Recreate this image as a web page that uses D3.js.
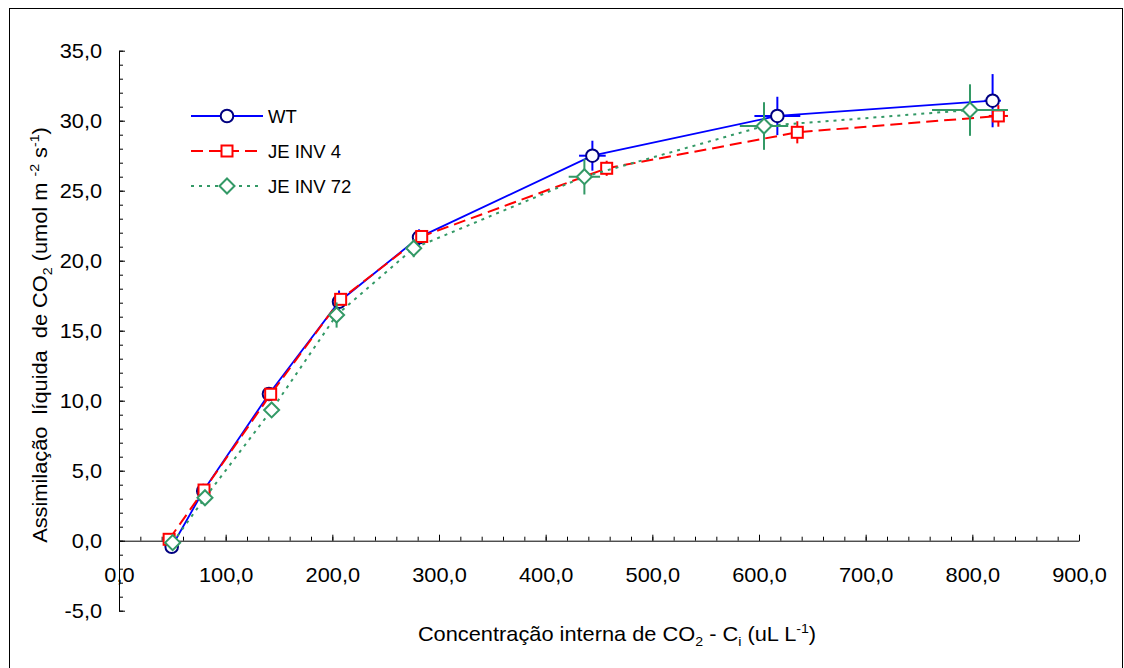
<!DOCTYPE html>
<html>
<head>
<meta charset="utf-8">
<script src="https://cdn.jsdelivr.net/npm/d3@7"></script>
<style>
  html, body { margin: 0; padding: 0; background: #fff; }
  svg text { font-family: "Liberation Sans", Arial, sans-serif; fill: #000; white-space: pre; }
</style>
</head>
<body>
<svg id="chart" width="1124" height="668"></svg>
<script>
// Internal CO2 concentration (Ci) and net CO2 assimilation for each line
const ciWT   = [49.4, 79.0, 140.6, 206.3, 281.3, 443.8, 617.2, 819.0];
const aWT    = [-0.43, 3.55, 10.48, 17.07, 21.67, 27.50, 30.34, 31.43];
const ciErrWT = [0, 0, 0, 0, 0, 12.5, 21.5, 7.8];
const aErrWT  = [0.15, 0.2, 0.48, 0.8, 0.57, 1.07, 1.37, 1.9];

const ciJE4  = [47.0, 79.7, 142.2, 207.8, 283.8, 457.2, 635.9, 824.4];
const aJE4   = [0.10, 3.62, 10.46, 17.24, 21.73, 26.60, 29.17, 30.34];
const ciErrJE4 = [0, 0, 0, 0, 0, 5, 5, 9];
const aErrJE4  = [0, 0.2, 0.3, 0.3, 0.3, 0.54, 0.79, 0.77];

const ciJE72 = [50.3, 80.6, 143.1, 204.0, 276.3, 436.3, 604.7, 797.8];
const aJE72  = [-0.14, 3.07, 9.34, 16.12, 20.89, 26.00, 29.62, 30.76];
const ciErrJE72 = [0, 0, 0, 0, 0, 14.7, 22.7, 35.6];
const aErrJE72  = [0.1, 0.3, 0.3, 0.9, 0.64, 1.27, 1.7, 1.84];

const seriesNames = ["WT", "JE INV 4", "JE INV 72"];
const xTicks = [0, 100, 200, 300, 400, 500, 600, 700, 800, 900];
const yTicks = [-5, 0, 5, 10, 15, 20, 25, 30, 35];

const svg = d3.select("#chart");
const stretch = 1.09; // horizontal stretch applied to axis text

// outer frame
svg.append("rect")
  .attr("x", 9.5).attr("y", 8.5)
  .attr("width", 1113).attr("height", 680)
  .attr("fill", "none").attr("stroke", "#000").attr("stroke-width", 1);

const x = d3.scaleLinear().domain([0, 900]).range([119, 1079]);
const y = d3.scaleLinear().domain([-5, 35]).range([610.7, 50.7]);

const fmt = v => d3.format(".1f")(v).replace(".", ",").replace("\u2212", "-");

// x axis at y = 0: minor ticks, then major ticks with labels
svg.append("g")
  .attr("transform", `translate(0,${y(0)})`)
  .call(d3.axisBottom(x).tickValues(d3.range(0, 901, 20)).tickSize(-4).tickSizeOuter(0).tickFormat(""))
  .call(g => g.select(".domain").remove());
const xAxis = svg.append("g")
  .attr("transform", `translate(0,${y(0)})`)
  .call(d3.axisBottom(x).tickValues(xTicks).tickSize(-6).tickSizeOuter(0).tickPadding(27).tickFormat(fmt));
xAxis.selectAll("text").style("font-size", "20px").attr("font-family", null)
  .attr("transform", `scale(${stretch},1)`);

// y axis at x = 0
svg.append("g")
  .attr("transform", `translate(${x(0)},0)`)
  .call(d3.axisLeft(y).tickValues(d3.range(-5, 35.01, 1)).tickSize(-4).tickSizeOuter(0).tickFormat(""))
  .call(g => g.select(".domain").remove());
const yAxis = svg.append("g")
  .attr("transform", `translate(${x(0)},0)`)
  .call(d3.axisLeft(y).tickValues(yTicks).tickSize(-6).tickSizeOuter(0).tickPadding(15.5).tickFormat(fmt));
yAxis.selectAll("text").style("font-size", "20px").attr("font-family", null)
  .attr("transform", `scale(${stretch},1)`);

svg.selectAll(".tick line, .domain").attr("stroke", "#000");

// axis titles
const yTitle = svg.append("text")
  .attr("transform", `translate(47,335) rotate(-90) scale(${stretch},1)`)
  .attr("text-anchor", "middle")
  .style("font-size", "20px");
yTitle.append("tspan").text("Assimilação  líquida  de CO");
yTitle.append("tspan").attr("dy", 5).style("font-size", "13px").text("2");
yTitle.append("tspan").attr("dy", -5).text(" (umol m ");
yTitle.append("tspan").attr("dy", -8).style("font-size", "13px").text("-2");
yTitle.append("tspan").attr("dy", 8).text(" s");
yTitle.append("tspan").attr("dy", -8).style("font-size", "13px").text("-1");
yTitle.append("tspan").attr("dy", 8).text(")");

const xTitle = svg.append("text")
  .attr("transform", `translate(617,641) scale(${stretch},1)`)
  .attr("text-anchor", "middle")
  .style("font-size", "20px");
xTitle.append("tspan").text("Concentração interna de CO");
xTitle.append("tspan").attr("dy", 5).style("font-size", "13px").text("2");
xTitle.append("tspan").attr("dy", -5).text(" - C");
xTitle.append("tspan").attr("dy", 5).style("font-size", "13px").text("i");
xTitle.append("tspan").attr("dy", -5).text(" (uL L");
xTitle.append("tspan").attr("dy", -8).style("font-size", "13px").text("-1");
xTitle.append("tspan").attr("dy", 8).text(")");

// series definitions
const series = [
  { name: seriesNames[0], ci: ciWT, a: aWT, ciErr: ciErrWT, aErr: aErrWT,
    line: "#0000ff", marker: "#000080", dash: null, width: 1.8, shape: "circle" },
  { name: seriesNames[1], ci: ciJE4, a: aJE4, ciErr: ciErrJE4, aErr: aErrJE4,
    line: "#ff0000", marker: "#ff0000", dash: "12,6", width: 2, shape: "square" },
  { name: seriesNames[2], ci: ciJE72, a: aJE72, ciErr: ciErrJE72, aErr: aErrJE72,
    line: "#339966", marker: "#339966", dash: "3,5", width: 2, shape: "diamond" }
];

function drawMarker(g, shape, color, cx, cy) {
  if (shape === "circle") {
    g.append("circle").attr("cx", cx).attr("cy", cy).attr("r", 6.3)
      .attr("fill", "#fff").attr("stroke", color).attr("stroke-width", 2);
  } else if (shape === "square") {
    g.append("rect").attr("x", cx - 5.5).attr("y", cy - 5.5).attr("width", 11).attr("height", 11)
      .attr("fill", "#fff").attr("stroke", color).attr("stroke-width", 2);
  } else {
    g.append("path").attr("d", `M${cx},${cy - 7.5}L${cx + 7.5},${cy}L${cx},${cy + 7.5}L${cx - 7.5},${cy}Z`)
      .attr("fill", "#fff").attr("stroke", color).attr("stroke-width", 2);
  }
}

const lineGen = d3.line().x(d => x(d[0])).y(d => y(d[1]));

series.forEach(s => {
  const g = svg.append("g");
  const pts = s.ci.map((c, i) => [c, s.a[i]]);
  // error bars
  pts.forEach((p, i) => {
    if (s.aErr[i] > 0) {
      g.append("line")
        .attr("x1", x(p[0])).attr("x2", x(p[0]))
        .attr("y1", y(p[1] - s.aErr[i])).attr("y2", y(p[1] + s.aErr[i]))
        .attr("stroke", s.line).attr("stroke-width", 2);
    }
    if (s.ciErr[i] > 0) {
      g.append("line")
        .attr("x1", x(p[0] - s.ciErr[i])).attr("x2", x(p[0] + s.ciErr[i]))
        .attr("y1", y(p[1])).attr("y2", y(p[1]))
        .attr("stroke", s.line).attr("stroke-width", 2);
    }
  });
  g.append("path").datum(pts)
    .attr("d", lineGen)
    .attr("fill", "none").attr("stroke", s.line).attr("stroke-width", s.width)
    .attr("stroke-dasharray", s.dash);
  pts.forEach(p => drawMarker(g, s.shape, s.marker, x(p[0]), y(p[1])));
});

// legend
const legendY = [116, 151, 186];
series.forEach((s, i) => {
  const g = svg.append("g");
  g.append("line").attr("x1", 191).attr("x2", 263).attr("y1", legendY[i]).attr("y2", legendY[i])
    .attr("stroke", s.line).attr("stroke-width", s.width).attr("stroke-dasharray", s.dash);
  drawMarker(g, s.shape, s.marker, 227, legendY[i]);
  g.append("text").attr("x", 268).attr("y", legendY[i] + 7).style("font-size", "18.5px").text(s.name);
});
</script>
</body>
</html>
